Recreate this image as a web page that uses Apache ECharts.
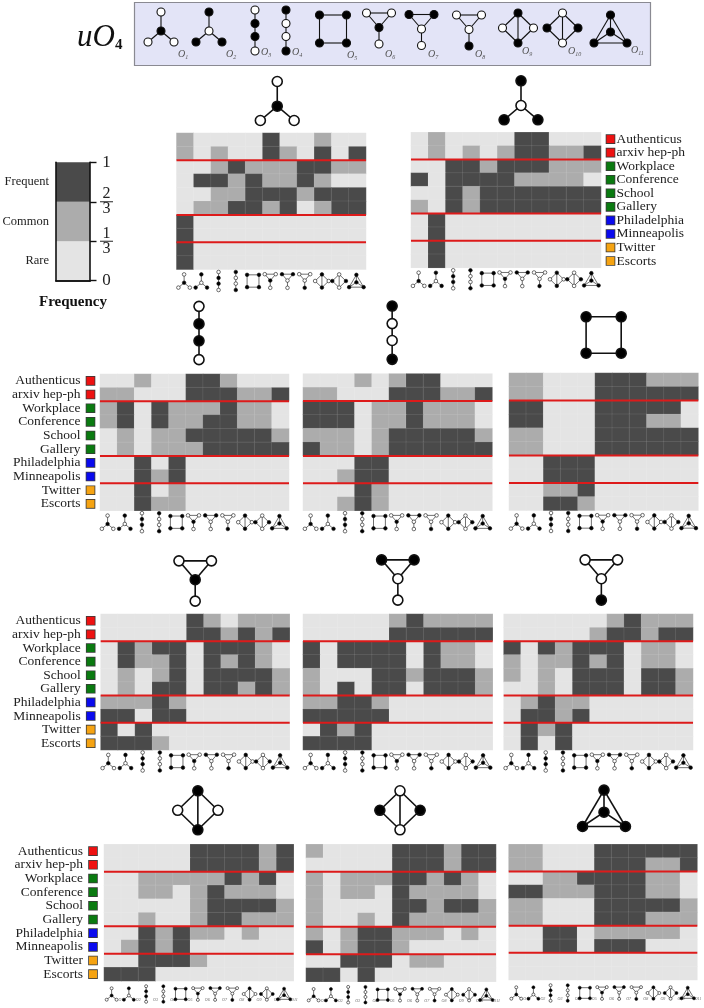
<!DOCTYPE html>
<html>
<head>
<meta charset="utf-8">
<style>html,body{margin:0;padding:0;background:#fff}#chart{width:704px;height:1008px}</style>
<script src="https://cdn.jsdelivr.net/npm/echarts@6/dist/echarts.min.js"></script>
</head>
<body>
<div id="chart"></div>
<script>
// 行・列のラベル
const networks = ['Authenticus', 'arxiv hep-ph', 'Workplace', 'Conference', 'School', 'Gallery', 'Philadelphia', 'Minneapolis', 'Twitter', 'Escorts'];
const networkGroup = [0, 0, 1, 1, 1, 1, 2, 2, 3, 3];
const orbits = ['O1', 'O2', 'O3', 'O4', 'O5', 'O6', 'O7', 'O8', 'O9', 'O10', 'O11'];
const separatorRows = [2, 6, 8];

// 0 = Rare, 1 = Common, 2 = Frequent
const freqO1 = [
  [1,0,0,0,0,2,0,0,1,0,0],[1,0,1,0,0,2,1,0,2,0,2],[0,0,1,2,1,1,1,2,2,1,1],[0,2,2,1,2,1,1,2,1,0,0],[0,0,1,1,2,2,2,1,2,2,2],
  [0,1,1,2,2,1,2,0,1,2,2],[2,0,0,0,0,0,0,0,0,0,0],[2,0,0,0,0,0,0,0,0,0,0],[2,0,0,0,0,0,0,0,0,0,0],[2,0,0,0,0,0,0,0,0,0,0]];
const freqO2 = [
  [0,1,0,0,0,0,2,2,0,0,0],[0,1,0,1,0,1,2,2,1,1,2],[0,0,2,2,1,2,2,2,1,1,1],[2,0,2,2,2,2,1,1,1,1,0],[0,0,2,1,2,2,2,2,2,2,2],
  [1,0,2,1,2,2,2,2,2,2,2],[0,2,0,0,0,0,0,0,0,0,0],[0,2,0,0,0,0,0,0,0,0,0],[0,2,0,0,0,0,0,0,0,0,0],[0,2,0,0,0,0,0,0,0,0,0]];
const freqO3 = [
  [0,0,1,0,0,2,2,1,0,0,0],[1,1,0,0,0,2,2,2,1,1,2],[1,2,0,2,1,1,1,2,1,1,0],[1,2,0,2,1,1,2,2,1,1,0],[0,1,0,1,1,2,2,2,2,2,1],
  [0,1,0,1,1,1,2,2,2,2,2],[0,0,2,0,2,0,0,0,0,0,0],[0,0,2,1,2,0,0,0,0,0,0],[0,0,2,0,1,0,0,0,0,0,0],[0,0,2,1,1,0,0,0,0,0,0]];
const freqO4 = [
  [0,0,0,1,0,1,2,2,0,0,0],[1,1,0,0,0,2,2,2,1,1,2],[2,2,2,0,1,1,2,1,1,1,0],[2,2,2,0,1,1,2,1,1,1,0],[1,1,1,0,1,2,2,2,2,2,1],
  [2,1,1,0,1,2,2,2,2,2,2],[0,0,0,2,2,0,0,0,0,0,0],[0,0,1,2,2,0,0,0,0,0,0],[0,0,0,2,1,0,0,0,0,0,0],[0,0,1,2,1,0,0,0,0,0,0]];
const freqO5 = [
  [1,1,0,0,0,2,2,2,1,1,1],[1,1,0,0,0,2,2,2,2,2,2],[2,2,0,0,0,2,2,2,2,2,0],[2,2,0,0,0,2,2,2,1,1,0],[1,1,0,0,0,2,2,2,2,2,2],
  [1,1,0,0,0,2,2,2,2,2,2],[0,0,2,2,2,0,0,0,0,0,0],[0,0,2,2,2,0,0,0,0,0,0],[0,0,1,1,2,0,0,0,0,0,0],[0,0,2,2,1,0,0,0,0,0,0]];
const freqO6 = [
  [0,0,0,0,0,2,1,0,1,1,1],[0,0,0,0,0,2,2,1,2,1,2],[0,2,1,2,2,0,2,2,2,1,0],[0,2,1,1,2,0,2,1,2,1,0],[0,1,0,1,2,0,2,2,2,2,1],
  [0,1,0,2,2,0,2,2,1,2,1],[1,1,1,2,1,0,0,0,0,0,0],[2,2,0,2,2,0,0,0,0,0,0],[2,0,2,0,0,0,0,0,0,0,0],[2,2,2,1,0,0,0,0,0,0,0]];
const freqO7 = [
  [0,0,0,0,0,1,2,1,1,1,1],[0,0,0,0,0,2,2,2,2,2,2],[2,0,2,2,2,2,0,2,1,1,0],[2,0,2,2,2,2,0,2,1,1,0],[1,0,0,0,2,2,1,2,2,2,1],
  [1,0,2,0,2,2,0,2,2,2,1],[1,1,2,2,1,0,0,0,0,0,0],[2,2,2,2,2,0,0,0,0,0,0],[0,2,1,2,0,0,0,0,0,0,0],[2,2,2,2,0,0,0,0,0,0,0]];
const freqO8 = [
  [0,0,0,0,0,0,1,2,1,1,1],[0,0,0,0,0,1,2,2,1,2,2],[2,0,2,1,2,2,2,0,1,1,0],[1,0,1,1,2,1,2,0,1,1,0],[1,0,1,0,2,2,2,0,2,2,1],
  [0,0,1,0,2,2,2,0,2,2,1],[0,1,2,1,1,0,0,0,0,0,0],[0,2,2,1,2,0,0,0,0,0,0],[0,2,1,2,0,0,0,0,0,0,0],[0,2,0,2,0,0,0,0,0,0,0]];
const freqO9 = [
  [0,0,0,0,0,2,2,2,2,1,2],[0,0,0,0,0,2,2,2,2,1,2],[0,0,1,1,1,1,1,2,1,2,0],[0,0,1,1,0,1,2,1,1,1,0],[0,0,0,0,0,1,2,2,2,2,1],
  [0,0,1,0,0,1,2,2,1,1,1],[0,0,2,1,2,1,1,0,1,0,0],[0,1,2,1,2,0,0,0,0,0,0],[0,0,2,2,2,1,0,0,0,0,0],[2,2,2,0,0,0,0,0,0,0,0]];
const freqO10 = [
  [1,0,0,0,0,2,2,2,1,2,2],[0,0,0,0,0,2,2,2,1,2,2],[1,0,1,1,1,2,2,1,2,1,0],[1,0,1,1,0,2,1,1,1,1,0],[1,0,0,0,0,2,2,1,2,2,1],
  [1,0,0,1,0,2,1,1,1,1,1],[1,0,1,2,2,1,1,1,0,1,0],[2,0,1,2,2,1,0,0,0,0,0],[0,0,2,2,2,0,1,1,0,0,0],[2,2,0,2,0,0,0,0,0,0,0]];
const freqO11 = [
  [1,1,0,0,0,2,2,2,2,2,2],[1,1,0,0,0,2,2,2,1,1,2],[0,0,1,1,2,2,2,2,1,1,0],[2,2,1,1,1,2,2,2,1,1,0],[1,1,0,0,0,2,2,2,2,2,1],
  [1,1,0,0,0,2,2,2,1,1,1],[0,0,2,2,0,1,1,1,1,1,0],[0,0,2,2,0,2,2,2,0,0,0],[0,0,0,0,0,0,0,0,0,0,0],[0,0,0,0,0,0,0,0,0,0,0]];

// カラーバー
const bandNames = ['Rare', 'Common', 'Frequent'];
const bandSizes = [1 / 3, 1 / 3, 1 / 3];
const bandTicks = [0, 1 / 3, 2 / 3, 1];

const FONT = '"Liberation Serif", serif';
const levelColors = ['#e4e4e4', '#acacac', '#4a4a4a'];
const groupColors = ['#ee1111', '#0a7a10', '#0a0aee', '#f5a312'];
const RED = '#dd1a1a';

// グラフレットの形（中心からの相対座標、ノードは [x, y, 塗り]）
const starEdges = [[0, 1], [1, 2], [1, 3]];
const pathEdges = [[0, 1], [1, 2], [2, 3]];
const tailEdges = [[0, 1], [0, 2], [1, 2], [2, 3]];
const diamondEdges = [[0, 2], [0, 3], [1, 2], [1, 3], [0, 1]];
const shapes = [
  { nodes: [[0,-15,0],[0,4,1],[-13,15,0],[13,15,0]], edges: starEdges },
  { nodes: [[0,-15,1],[0,4,0],[-13,15,1],[13,15,1]], edges: starEdges },
  { nodes: [[0,-20.5,0],[0,-7,1],[0,6,1],[0,20.5,0]], edges: pathEdges },
  { nodes: [[0,-20.5,1],[0,-7,0],[0,6,0],[0,20.5,1]], edges: pathEdges },
  { nodes: [[-13.5,-14,1],[13.5,-14,1],[13.5,14,1],[-13.5,14,1]], edges: [[0,1],[1,2],[2,3],[3,0]] },
  { nodes: [[-12.5,-15.5,0],[12.5,-15.5,0],[0,-1,1],[0,15.5,0]], edges: tailEdges },
  { nodes: [[-12.5,-15.5,1],[12.5,-15.5,1],[0,-1,0],[0,15.5,0]], edges: tailEdges },
  { nodes: [[-12.5,-15.5,0],[12.5,-15.5,0],[0,-1,0],[0,15.5,1]], edges: tailEdges },
  { nodes: [[0,-15,1],[0,15,1],[-15.5,0,0],[15.5,0,0]], edges: diamondEdges },
  { nodes: [[0,-15,0],[0,15,0],[-15.5,0,1],[15.5,0,1]], edges: diamondEdges },
  { nodes: [[0,-14,1],[0,3,1],[-16.5,14,1],[16.5,14,1]], edges: [[0,1],[0,2],[0,3],[1,2],[1,3],[2,3]] },
];

// 1個のグラフレットを描く group を返す
function glyph(id, cx, cy, scale, r, lw) {
  const s = shapes[id];
  const children = s.edges.map(([a, b]) => ({
    type: 'line',
    shape: { x1: s.nodes[a][0] * scale, y1: s.nodes[a][1] * scale, x2: s.nodes[b][0] * scale, y2: s.nodes[b][1] * scale },
    style: { stroke: '#111', lineWidth: lw },
  }));
  s.nodes.forEach((n) => {
    children.push({
      type: 'circle',
      shape: { cx: n[0] * scale, cy: n[1] * scale, r },
      style: { fill: n[2] ? '#000' : '#fff', stroke: '#111', lineWidth: lw },
    });
  });
  return { type: 'group', x: cx, y: cy, silent: true, children };
}

// 配置
const panels = [
  { id: 0, freq: freqO1, left: 176.5, top: 133, width: 189.5, height: 136.5, title: [6, 32] },
  { id: 1, freq: freqO2, left: 411, top: 132.3, width: 190, height: 135.5, title: [15, 32], side: 'right' },
  { id: 2, freq: freqO3, left: 100, top: 374, width: 189, height: 136.7, title: [4.5, 41], side: 'left', margin: 5.5 },
  { id: 3, freq: freqO4, left: 303, top: 373.7, width: 189.3, height: 137, title: [-5.5, 41] },
  { id: 4, freq: freqO5, left: 509, top: 373, width: 189.3, height: 137.5, title: [0, 38] },
  { id: 5, freq: freqO6, left: 100.7, top: 614, width: 189, height: 136, title: [0, 33], side: 'left', margin: 6 },
  { id: 6, freq: freqO7, left: 303, top: 614, width: 189.7, height: 136, title: [0, 34] },
  { id: 7, freq: freqO8, left: 503.7, top: 614, width: 189.3, height: 136, title: [3, 34] },
  { id: 8, freq: freqO9, left: 104, top: 844.3, width: 189.7, height: 136.7, title: [-1, 34], side: 'left', margin: 7, small: true },
  { id: 9, freq: freqO10, left: 306, top: 844.3, width: 190, height: 137.4, title: [-1, 34], small: true },
  { id: 10, freq: freqO11, left: 508.7, top: 844.3, width: 188.6, height: 135.7, title: [1, 36], small: true },
];

const swatchRich = {};
groupColors.forEach((c, i) => {
  swatchRich['s' + i] = { width: 8, height: 8, backgroundColor: c, borderColor: '#3a3a3a', borderWidth: 0.8 };
});

const grids = [], xAxes = [], yAxes = [], series = [];
const heatIndexes = [];

panels.forEach((p, k) => {
  grids.push({ left: p.left, top: p.top, width: p.width, height: p.height });
  xAxes.push({
    type: 'category', gridIndex: k, data: orbits,
    axisLine: { show: false }, axisTick: { show: false }, axisLabel: { show: false }, splitLine: { show: false },
  });
  const labels = { show: !!p.side, interval: 0, hideOverlap: false };
  if (p.side === 'left') {
    labels.margin = p.margin;
    labels.formatter = (v, i) => `{t|${v}}{s${networkGroup[i]}|}`;
    labels.rich = { t: { fontFamily: FONT, fontSize: 13.5, color: '#222', padding: [0, 6, 0, 0] }, ...swatchRich };
  } else if (p.side === 'right') {
    labels.margin = 5.5;
    labels.align = 'left';
    labels.formatter = (v, i) => `{s${networkGroup[i]}|}{t|${v}}`;
    labels.rich = { t: { fontFamily: FONT, fontSize: 13.5, color: '#222', padding: [0, 0, 0, 2] }, ...swatchRich };
  }
  yAxes.push({
    type: 'category', gridIndex: k, data: networks, inverse: true, position: p.side === 'right' ? 'right' : 'left',
    axisLine: { show: false }, axisTick: { show: false }, axisLabel: labels, splitLine: { show: false },
  });

  heatIndexes.push(series.length);
  series.push({
    type: 'heatmap', xAxisIndex: k, yAxisIndex: k, silent: true,
    data: p.freq.flatMap((row, y) => row.map((v, x) => [x, y, v])),
    itemStyle: { borderColor: 'rgba(255,255,255,0.09)', borderWidth: 1 },
    progressive: 0,
  });

  // 赤い区切り線
  series.push({
    type: 'custom', xAxisIndex: k, yAxisIndex: k, silent: true, z: 5,
    encode: { x: 0, y: 1 },
    data: separatorRows.map((r) => [0, r]),
    renderItem: (params, api) => {
      const band = api.size([0, 1])[1];
      const y = api.coord([0, api.value(1)])[1] - band / 2;
      return {
        type: 'line',
        shape: { x1: p.left, y1: y, x2: p.left + p.width, y2: y },
        style: { stroke: RED, lineWidth: 2 },
      };
    },
  });

  // 列の下の小さいグラフレット
  series.push({
    type: 'custom', xAxisIndex: k, yAxisIndex: k, silent: true, z: 5,
    encode: { x: 0, y: 1 },
    data: orbits.map((o, i) => [i, 9]),
    renderItem: (params, api) => {
      const i = api.value(0);
      const pt = api.coord([i, 9]);
      const band = api.size([0, 1])[1];
      const scale = p.small ? 0.38 : 0.44;
      const g = glyph(i, pt[0] - 1, pt[1] + band / 2 + (p.small ? 13 : 11.5), scale, p.small ? 1.5 : 1.8, 0.6);
      if (p.small) {
        g.children.push({
          type: 'text', style: { text: 'O' + (i + 1), x: 7, y: 4, fontSize: 4, fontFamily: FONT, fontStyle: 'italic', fill: '#666' },
        });
      }
      return g;
    },
  });

  // パネル上の大きいグラフレット
  series.push({
    type: 'custom', xAxisIndex: k, yAxisIndex: k, silent: true, z: 5,
    encode: { x: 0, y: 1 },
    data: [[5, 0]],
    renderItem: (params, api) => {
      const pt = api.coord([5, 0]);
      const band = api.size([0, 1])[1];
      return glyph(p.id, pt[0] + p.title[0], pt[1] - band / 2 - p.title[1], 1.3, 5, 1.6);
    },
  });
});

// カラーバー
const cb = panels.length;
grids.push({ left: 56, top: 162.3, width: 34, height: 118.4 });
const frame = { lineStyle: { color: '#111', width: 1.6 } };
xAxes.push({
  type: 'category', gridIndex: cb, data: ['Frequency'], z: 10,
  name: 'Frequency', nameLocation: 'middle', nameGap: 14,
  nameTextStyle: { fontFamily: FONT, fontSize: 15, fontWeight: 'bold', color: '#111' },
  axisLine: { show: true, ...frame }, axisTick: { show: false }, axisLabel: { show: false },
});
xAxes.push({
  type: 'category', gridIndex: cb, position: 'top', data: ['Frequency'], z: 10,
  axisLine: { show: true, ...frame }, axisTick: { show: false }, axisLabel: { show: false },
});
yAxes.push({
  type: 'value', gridIndex: cb, min: 0, max: 1, position: 'right', z: 10,
  axisLine: { show: true, ...frame },
  axisTick: { show: true, length: 6.5, customValues: bandTicks, lineStyle: { color: '#111', width: 1.4 } },
  splitLine: { show: false },
  axisLabel: {
    margin: 10, align: 'left', customValues: bandTicks,
    formatter: (v) => {
      if (v === 0 || v === 1) return `{n|${v}}`;
      return `{f|${Math.round(v * 3)}}\n{bar|}\n{f|3}`;
    },
    rich: {
      n: { fontFamily: FONT, fontSize: 17, color: '#222', width: 13, align: 'center' },
      f: { fontFamily: FONT, fontSize: 16, color: '#222', width: 13, align: 'center', lineHeight: 14 },
      bar: { width: 13, height: 1, backgroundColor: '#222', lineHeight: 1 },
    },
  },
});
yAxes.push({
  type: 'value', gridIndex: cb, min: 0, max: 1, position: 'left', z: 10,
  axisLine: { show: true, ...frame }, axisTick: { show: false }, axisLabel: { show: false }, splitLine: { show: false },
});
bandNames.forEach((name, i) => {
  series.push({
    type: 'bar', name, xAxisIndex: cb, yAxisIndex: cb, stack: 'bands', barWidth: '100%', silent: true,
    data: [bandSizes[i]],
    itemStyle: { color: levelColors[i] },
    label: { show: true, position: 'left', distance: 7, formatter: name, fontFamily: FONT, fontSize: 12.5, color: '#222' },
  });
});

// 上部の凡例パネル
const bannerX = [161, 209, 255, 286, 333, 379, 421.5, 469, 518, 562.5, 610.5];
const bannerY = [27, 27, 30.5, 30.5, 29, 28.5, 30, 30.5, 28, 28, 29];
const bannerLabelX = [178, 226, 261, 292, 347, 385, 428, 475, 522, 568, 631];
const bannerLabelY = [55, 55, 53, 53, 56, 55, 55, 55, 52, 52, 51];
const graphic = [
  { type: 'rect', shape: { x: 134.5, y: 2.5, width: 516, height: 63 }, style: { fill: '#e3e4f7', stroke: '#8a8a92', lineWidth: 1.2 }, silent: true },
  {
    type: 'text', x: 77, y: 22, silent: true,
    style: {
      text: '{u|u}{o|O}{d|4}',
      rich: {
        u: { fontFamily: FONT, fontStyle: 'italic', fontSize: 31, fill: '#111' },
        o: { fontFamily: FONT, fontStyle: 'italic', fontSize: 31, fill: '#111' },
        d: { fontFamily: FONT, fontWeight: 'bold', fontSize: 15, fill: '#111', verticalAlign: 'bottom', padding: [14, 0, 0, 0] },
      },
    },
  },
];
orbits.forEach((o, i) => {
  graphic.push(glyph(i, bannerX[i], bannerY[i], 1, 4, 1.1));
  graphic.push({
    type: 'text', x: bannerLabelX[i], y: bannerLabelY[i] - 6, silent: true,
    style: {
      text: `{a|O}{b|${i + 1}}`,
      rich: {
        a: { fontFamily: FONT, fontStyle: 'italic', fontSize: 10, fill: '#555' },
        b: { fontFamily: FONT, fontStyle: 'italic', fontSize: 6, fill: '#555', padding: [5, 0, 0, 0] },
      },
    },
  });
});

const chart = echarts.init(document.getElementById('chart'), null, { renderer: 'canvas' });
chart.setOption({
  backgroundColor: '#fff',
  animation: false,
  tooltip: { show: false },
  visualMap: {
    show: false, type: 'piecewise', dimension: 2, seriesIndex: heatIndexes,
    pieces: levelColors.map((color, value) => ({ value, color })),
  },
  grid: grids,
  xAxis: xAxes,
  yAxis: yAxes,
  series,
  graphic,
});
</script>
</body>
</html>
